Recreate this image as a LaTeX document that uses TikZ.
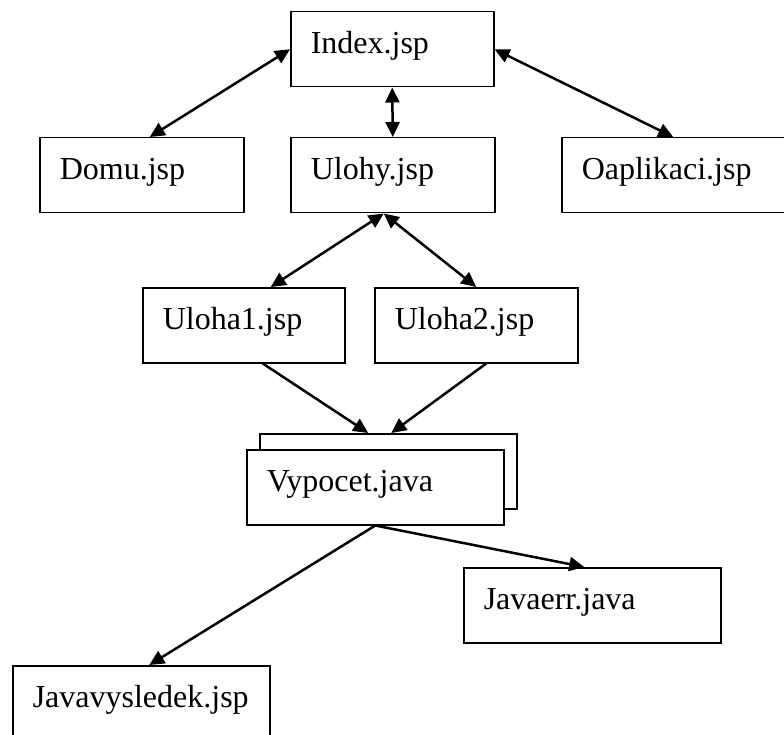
\documentclass[tikz,border=0pt]{standalone}
\usepackage{fontspec}
\setmainfont{Liberation Serif}
\usetikzlibrary{arrows.meta}

\begin{document}
\begin{tikzpicture}[
        x=1pt, y=-1pt,
        every node/.style={draw, rectangle, anchor=north west, fill=white, line width=1.5pt,
            inner xsep=20pt, inner ysep=0pt, text height=42pt, text depth=33pt, align=left,
            font=\fontsize{32}{38}\selectfont},
        link/.style={line width=2.5pt, -{Triangle[length=15pt,width=14pt]}},
        both/.style={line width=2.5pt, {Triangle[length=15pt,width=14pt]}-{Triangle[length=15pt,width=14pt]}},
    ]
        \useasboundingbox (0,0) rectangle (784,735);
        \node[text width=163pt] (index) at (290,11) {Index.jsp};
        \node[text width=164pt] (domu) at (39,137) {Domu.jsp};
        \node[text width=164pt] (ulohy) at (290,137) {Ulohy.jsp};
        \node[text width=189pt] (oaplikaci) at (561,137) {Oaplikaci.jsp};
        \node[text width=162pt] (uloha1) at (142,287) {Uloha1.jsp};
        \node[text width=163pt] (uloha2) at (374,287) {Uloha2.jsp};
        \node[text width=217pt] (vypocetback) at (259,433) {};
        \node[text width=217pt] (vypocet) at (246,449) {Vypocet.java};
        \node[text width=217pt] (javaerr) at (463,567) {Javaerr.java};
        \node[text width=217pt] (javavysledek) at (12,665) {Javavysledek.jsp};
        \draw[both] (index.west) -- ([xshift=8pt]domu.north);
        \draw[both] (index.east) -- ([xshift=-3pt]oaplikaci.north);
        \draw[both] (index.south) -- (ulohy.north);
        \draw[both] ([xshift=-9pt]ulohy.south) -- ([xshift=27pt]uloha1.north);
        \draw[both] ([xshift=-9pt]ulohy.south) -- (uloha2.north);
        \draw[link] ([xshift=19pt]uloha1.south) -- ([xshift=-20pt]vypocetback.north);
        \draw[link] ([xshift=10pt]uloha2.south) -- ([xshift=3pt]vypocetback.north);
        \draw[link] (vypocet.south) -- ([xshift=-8pt]javaerr.north);
        \draw[link] (vypocet.south) -- ([xshift=8pt]javavysledek.north);
    \end{tikzpicture}
\end{document}
